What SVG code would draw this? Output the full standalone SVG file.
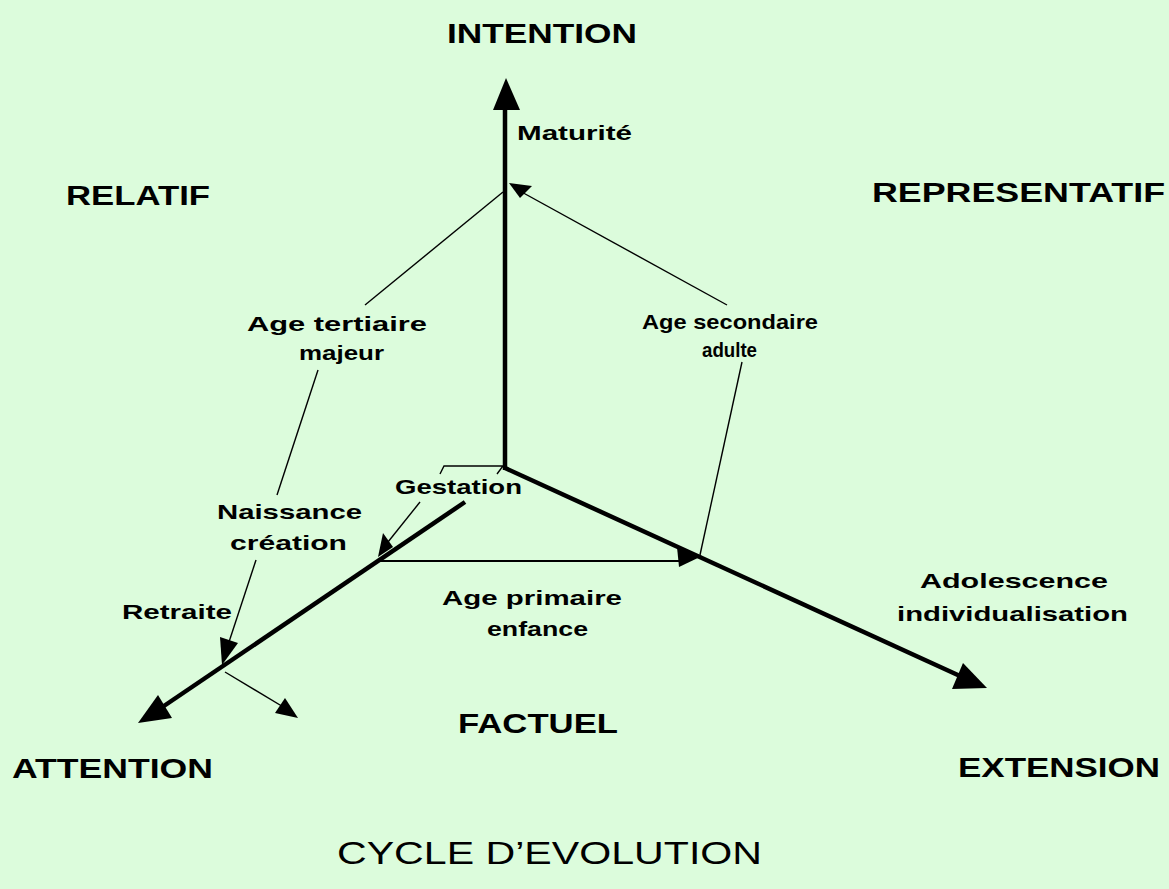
<svg xmlns="http://www.w3.org/2000/svg" width="1169" height="889" viewBox="0 0 1169 889">
<style>
.big{font-family:"Liberation Sans",Arial,sans-serif;font-weight:bold;font-size:27px;fill:#000}
.sm{font-family:"Liberation Sans",Arial,sans-serif;font-weight:bold;font-size:21px;fill:#000}
.title{font-family:"Liberation Sans",Arial,sans-serif;font-size:31px;fill:#000}
.axis{stroke:#000;stroke-width:4.5;fill:none}
.thin{stroke:#000;stroke-width:1.4;fill:none}
.mid{stroke:#000;stroke-width:2.2;fill:none}
.head{fill:#000;stroke:none}
</style>
<rect width="1169" height="889" fill="#dcfcdc"/>
<g id="connectors">
  <!-- main axes -->
  <line class="axis" x1="505" y1="470" x2="505" y2="106"/>
  <polygon class="head" points="506,78 493,110 520,110"/>
  <line class="axis" x1="505" y1="468" x2="960" y2="676"/>
  <polygon class="head" points="987,688 963,663 952,689"/>
  <line class="axis" x1="465" y1="502" x2="158" y2="710"/>
  <polygon class="head" points="138,723 158,695 172,718"/>
  <!-- cycle links -->
  <polyline class="thin" points="440,474 444,466 503,466 497,474"/>
  <line class="thin" x1="420" y1="502" x2="388" y2="542"/>
  <polygon class="head" points="378,557 383,533 393,547"/>
  <line class="mid" x1="380" y1="561" x2="680" y2="561"/>
  <polygon class="head" points="702,556 677,547 679,567"/>
  <line class="thin" x1="700" y1="555" x2="742" y2="362"/>
  <line class="thin" x1="727" y1="305" x2="518" y2="190"/>
  <polygon class="head" points="509,183 532,186 520,198"/>
  <line class="thin" x1="503" y1="192" x2="365" y2="305"/>
  <line class="thin" x1="318" y1="370" x2="277" y2="495"/>
  <line class="thin" x1="256" y1="560" x2="228" y2="645"/>
  <polygon class="head" points="222,665 220,637 238,643"/>
  <line class="thin" x1="225" y1="672" x2="285" y2="708"/>
  <polygon class="head" points="298,718 275,713 285,698"/>
</g>
<g id="n-intention"><text class="big" x="447" y="43" textLength="190" lengthAdjust="spacingAndGlyphs">INTENTION</text></g>
<g id="n-relatif"><text class="big" x="66" y="205" textLength="144" lengthAdjust="spacingAndGlyphs">RELATIF</text></g>
<g id="n-representatif"><text class="big" x="872" y="202" textLength="293" lengthAdjust="spacingAndGlyphs">REPRESENTATIF</text></g>
<g id="n-maturite"><text class="sm" x="517" y="140" textLength="115" lengthAdjust="spacingAndGlyphs">Maturité</text></g>
<g id="n-tertiaire">
  <text class="sm" x="247" y="331" textLength="180" lengthAdjust="spacingAndGlyphs">Age tertiaire</text>
  <text class="sm" x="299" y="360" textLength="85" lengthAdjust="spacingAndGlyphs">majeur</text>
</g>
<g id="n-secondaire">
  <text class="sm" x="642" y="329" textLength="176" lengthAdjust="spacingAndGlyphs">Age secondaire</text>
  <text class="sm" x="702" y="357" textLength="55" lengthAdjust="spacingAndGlyphs">adulte</text>
</g>
<g id="n-gestation"><text class="sm" x="395" y="494" textLength="127" lengthAdjust="spacingAndGlyphs">Gestation</text></g>
<g id="n-naissance">
  <text class="sm" x="217" y="519" textLength="145" lengthAdjust="spacingAndGlyphs">Naissance</text>
  <text class="sm" x="230" y="550" textLength="117" lengthAdjust="spacingAndGlyphs">création</text>
</g>
<g id="n-retraite"><text class="sm" x="122" y="619" textLength="110" lengthAdjust="spacingAndGlyphs">Retraite</text></g>
<g id="n-primaire">
  <text class="sm" x="442" y="605" textLength="180" lengthAdjust="spacingAndGlyphs">Age primaire</text>
  <text class="sm" x="487" y="636" textLength="101" lengthAdjust="spacingAndGlyphs">enfance</text>
</g>
<g id="n-adolescence">
  <text class="sm" x="920" y="588" textLength="188" lengthAdjust="spacingAndGlyphs">Adolescence</text>
  <text class="sm" x="897" y="621" textLength="231" lengthAdjust="spacingAndGlyphs">individualisation</text>
</g>
<g id="n-factuel"><text class="big" x="458" y="733" textLength="160" lengthAdjust="spacingAndGlyphs">FACTUEL</text></g>
<g id="n-attention"><text class="big" x="12" y="778" textLength="201" lengthAdjust="spacingAndGlyphs">ATTENTION</text></g>
<g id="n-extension"><text class="big" x="958" y="777" textLength="202" lengthAdjust="spacingAndGlyphs">EXTENSION</text></g>
<g id="n-title"><text class="title" x="337" y="864" textLength="425" lengthAdjust="spacingAndGlyphs">CYCLE D’EVOLUTION</text></g>
</svg>
